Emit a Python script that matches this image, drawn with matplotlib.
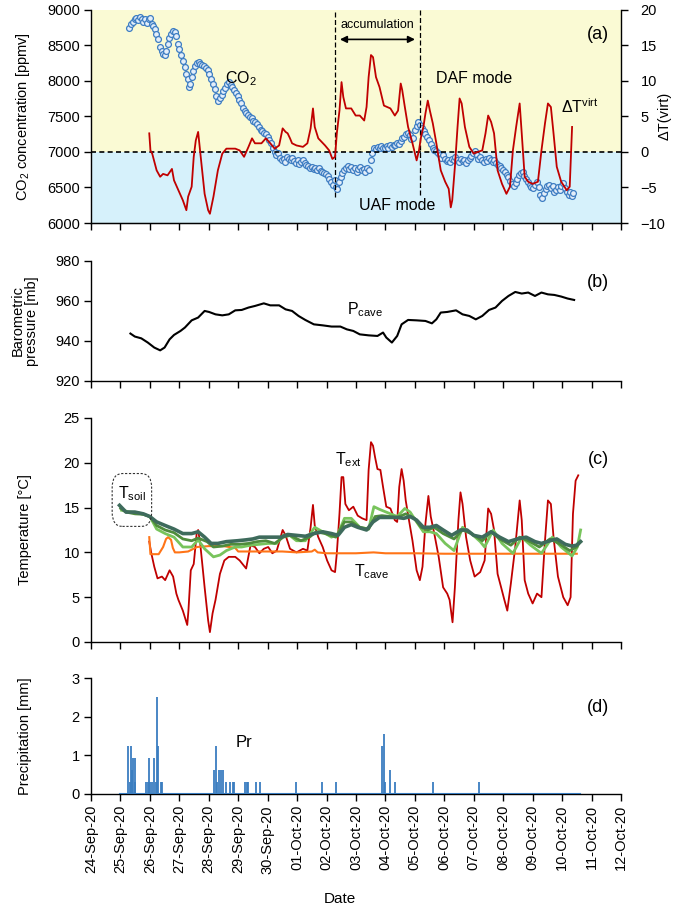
import matplotlib
matplotlib.use('Agg')
import matplotlib.pyplot as plt
from matplotlib.patches import FancyBboxPatch

plt.rcParams['font.family'] = ['Liberation Sans', 'DejaVu Sans']
plt.rcParams['mathtext.fontset'] = 'custom'
plt.rcParams['mathtext.rm'] = 'Liberation Sans'
plt.rcParams['mathtext.it'] = 'Liberation Sans'
plt.rcParams['mathtext.default'] = 'regular'

# ---------------- data (x = days since 24-Sep-20 00:00) ----------------
date_labels = ['24-Sep-20', '25-Sep-20', '26-Sep-20', '27-Sep-20', '28-Sep-20', '29-Sep-20',
               '30-Sep-20', '01-Oct-20', '02-Oct-20', '03-Oct-20', '04-Oct-20', '05-Oct-20',
               '06-Oct-20', '07-Oct-20', '08-Oct-20', '09-Oct-20', '10-Oct-20', '11-Oct-20',
               '12-Oct-20']

co2_t = [1.30, 1.36, 1.42, 1.48, 1.54, 1.60, 1.66, 1.72, 1.78, 1.84, 1.90, 1.96, 2.02, 2.08,
         2.12, 2.16, 2.22, 2.28, 2.34, 2.40, 2.46, 2.50, 2.54, 2.60, 2.66, 2.72, 2.78, 2.84,
         2.88, 2.94, 3.00, 3.06, 3.12, 3.18, 3.24, 3.28, 3.34, 3.38, 3.42, 3.48, 3.54, 3.60,
         3.66, 3.72, 3.78, 3.84, 3.90, 3.96, 4.02, 4.08, 4.14, 4.20, 4.26, 4.32, 4.38, 4.44,
         4.50, 4.56, 4.62, 4.68, 4.74, 4.80, 4.86, 4.92, 4.98, 5.04, 5.10, 5.16, 5.22, 5.28,
         5.34, 5.40, 5.46, 5.52, 5.58, 5.64, 5.70, 5.76, 5.82, 5.88, 5.94, 6.00, 6.06, 6.12,
         6.18, 6.24, 6.30, 6.36, 6.42, 6.48, 6.54, 6.60, 6.66, 6.72, 6.78, 6.84, 6.90, 6.96,
         7.02, 7.08, 7.14, 7.20, 7.26, 7.32, 7.38, 7.44, 7.50, 7.56, 7.62, 7.68, 7.74, 7.80,
         7.86, 7.92, 7.98, 8.04, 8.10, 8.16, 8.22, 8.28, 8.32, 8.36, 8.42, 8.48, 8.54, 8.60,
         8.66, 8.72, 8.78, 8.84, 8.90, 8.96, 9.02, 9.08, 9.14, 9.20, 9.26, 9.32, 9.38, 9.44,
         9.50, 9.56, 9.62, 9.68, 9.74, 9.80, 9.86, 9.92, 9.98, 10.04, 10.10, 10.16, 10.22,
         10.28, 10.34, 10.40, 10.46, 10.52, 10.58, 10.64, 10.70, 10.76, 10.82, 10.88, 10.94,
         11.00, 11.06, 11.12, 11.18, 11.24, 11.30, 11.36, 11.42, 11.48, 11.54, 11.60, 11.66,
         11.72, 11.78, 11.84, 11.90, 11.96, 12.02, 12.08, 12.14, 12.20, 12.26, 12.32, 12.38,
         12.44, 12.50, 12.56, 12.62, 12.68, 12.74, 12.80, 12.86, 12.92, 12.98, 13.04, 13.10,
         13.16, 13.22, 13.28, 13.34, 13.40, 13.46, 13.52, 13.58, 13.64, 13.70, 13.76, 13.82,
         13.88, 13.94, 14.00, 14.06, 14.12, 14.18, 14.24, 14.30, 14.36, 14.42, 14.48, 14.54,
         14.60, 14.66, 14.72, 14.78, 14.84, 14.90, 14.96, 15.02, 15.08, 15.14, 15.20, 15.26,
         15.32, 15.38, 15.44, 15.50, 15.56, 15.62, 15.68, 15.74, 15.80, 15.86, 15.92, 15.98,
         16.04, 16.10, 16.16, 16.22, 16.28, 16.34, 16.38]
co2_v = [8740, 8790, 8830, 8860, 8880, 8850, 8890, 8870, 8830, 8860, 8810, 8860, 8880, 8800,
         8770, 8720, 8660, 8580, 8480, 8420, 8370, 8360, 8420, 8520, 8600, 8660, 8700, 8690,
         8630, 8520, 8440, 8360, 8280, 8190, 8100, 8020, 7910, 7960, 8050, 8130, 8200, 8250,
         8260, 8240, 8220, 8200, 8180, 8150, 8100, 8030, 7960, 7880, 7790, 7720, 7760, 7800,
         7850, 7900, 7950, 7980, 7940, 7910, 7870, 7830, 7780, 7730, 7680, 7620, 7580, 7550,
         7520, 7490, 7470, 7440, 7420, 7390, 7350, 7310, 7290, 7270, 7250, 7210, 7170, 7120,
         7060, 7000, 6950, 6980, 6920, 6880, 6900, 6860, 6930, 6900, 6880, 6910, 6870, 6850,
         6880, 6830, 6860, 6890, 6850, 6820, 6800, 6780, 6790, 6760, 6780, 6750, 6770, 6730,
         6710, 6700, 6690, 6660, 6620, 6580, 6540, 6600, 6500, 6480, 6580, 6650, 6700, 6740,
         6780, 6800, 6760, 6790, 6750, 6780, 6720, 6760, 6790, 6740, 6760, 6720, 6780, 6750,
         6880, 6990, 7060, 7040, 7070, 7050, 7080, 7060, 7050, 7080, 7060, 7090, 7070,
         7100, 7090, 7120, 7110, 7150, 7190, 7210, 7250, 7260, 7230, 7180, 7200,
         7300, 7360, 7420, 7380, 7330, 7290, 7250, 7210, 7170, 7110, 7060, 7030,
         7010, 6980, 6950, 6920, 6960, 6900, 6870, 6890, 6860, 6900, 6880, 6930,
         6890, 6860, 6900, 6870, 6890, 6850, 6880, 6910, 6940, 6980, 7010, 6950,
         6900, 6930, 6880, 6860, 6900, 6870, 6920, 6890, 6860, 6890, 6840, 6820,
         6800, 6780, 6750, 6720, 6680, 6640, 6590, 6550, 6520, 6560, 6620, 6680,
         6700, 6720, 6660, 6620, 6580, 6540, 6500, 6490, 6540, 6580, 6500, 6400,
         6350, 6420, 6480, 6520, 6540, 6490, 6520, 6440, 6470, 6510, 6460, 6520,
         6560, 6490, 6440, 6400, 6430, 6380, 6420]

dtv_t = [1.98, 2.02, 2.08, 2.23, 2.35, 2.45, 2.60, 2.75, 2.82, 2.97, 3.12, 3.24, 3.30, 3.42,
         3.49, 3.56, 3.64, 3.68, 3.74, 3.86, 3.98, 4.04, 4.16, 4.31, 4.46, 4.60, 4.90, 5.05,
         5.20, 5.35, 5.47, 5.57, 5.79, 5.94, 6.09, 6.24, 6.39, 6.51, 6.61, 6.68, 6.76, 6.83,
         6.98, 7.20, 7.35, 7.46, 7.54, 7.60, 7.72, 7.95, 8.09, 8.20, 8.29, 8.35, 8.44, 8.51,
         8.57, 8.66, 8.84, 8.99, 9.13, 9.28, 9.36, 9.43, 9.51, 9.58, 9.68, 9.80, 9.95, 10.17,
         10.32, 10.43, 10.52, 10.57, 10.66, 10.77, 10.92, 11.06, 11.14, 11.21, 11.29, 11.36,
         11.44, 11.51, 11.61, 11.73, 11.88, 12.03, 12.15, 12.22, 12.27, 12.36, 12.45, 12.52,
         12.59, 12.70, 12.85, 13.00, 13.14, 13.29, 13.40, 13.49, 13.59, 13.69, 13.81, 13.96,
         14.11, 14.23, 14.33, 14.44, 14.56, 14.63, 14.73, 14.85, 15.00, 15.18, 15.30, 15.42,
         15.52, 15.62, 15.71, 15.82, 15.97, 16.16, 16.26, 16.34]
dtv_v = [2.6, 0.2, -0.25, -2.6, -3.5, -3.1, -3.3, -2.4, -4.0, -5.4, -6.8, -8.2, -6.3, -4.9,
         -0.7, 1.6, 2.8, 1.2, -1.2, -5.9, -8.2, -8.7, -6.3, -2.6, -0.25, 0.45, 0.45, 0.2,
         -0.7, 0.7, 1.9, 1.2, 1.2, 1.9, 1.2, 0.45, 0.9, 3.3, 2.8, 2.6, 1.9, 1.2,
         0.9, 0.7, 1.2, 3.3, 6.1, 3.5, 1.9, 0.9, 0.2, -1.0, -0.7, 2.6, 5.8, 9.8,
         7.7, 6.1, 6.1, 5.1, 5.1, 4.4, 6.3, 10.5, 13.6, 13.3, 10.5, 9.1, 6.5, 6.1,
         5.1, 5.8, 9.6, 8.7, 6.3, 3.5, 1.2, -1.2, 0.2, 2.1, 3.5, 5.4,
         7.2, 5.8, 4.0, 1.2, -2.6, -4.2, -5.2, -7.8, -6.8, -2.1, 3.5, 7.5,
         6.8, 3.5, 0.7, -0.25, 0.0, 0.2, 2.6, 5.1, 4.2, 2.6, -2.6, -4.5,
         -5.9, -4.9, 0.2, 3.5, 6.8, 2.6, -3.5, -4.2, -4.5, -4.2, 0.2, 4.0,
         6.8, 6.3, 2.6, -2.1, -4.2, -5.4, -4.9, 3.5]

p_t = [1.34, 1.49, 1.71, 1.93, 2.15, 2.35, 2.50, 2.67, 2.82, 3.04, 3.19, 3.42, 3.64, 3.86,
       4.01, 4.23, 4.46, 4.68, 4.90, 5.12, 5.35, 5.57, 5.87, 6.09, 6.39, 6.61, 6.83, 7.05,
       7.28, 7.57, 7.87, 8.17, 8.47, 8.69, 8.91, 9.13, 9.43, 9.73, 9.92, 10.03, 10.22, 10.40,
       10.55, 10.77, 11.06, 11.36, 11.58, 11.73, 11.88, 12.10, 12.40, 12.62, 12.85, 13.07,
       13.29, 13.52, 13.74, 13.96, 14.18, 14.41, 14.63, 14.85, 15.08, 15.30, 15.52, 15.74,
       15.97, 16.19, 16.41]
p_v = [943.7, 942.2, 941.3, 939.2, 936.7, 935.3, 936.7, 940.8, 943.0, 945.0, 946.7, 950.3,
       951.7, 955.0, 954.5, 953.3, 952.8, 953.3, 955.3, 955.5, 956.7, 957.5, 958.8, 957.8,
       957.8, 955.8, 955.0, 952.5, 950.5, 948.3, 947.8, 947.2, 947.2, 945.8, 945.0, 943.3,
       942.8, 942.5, 944.2, 941.7, 939.2, 942.5, 948.3, 950.5, 950.3, 950.0, 948.8, 950.8,
       954.2, 954.5, 955.3, 953.3, 952.5, 950.8, 952.5, 955.5, 956.7, 960.0, 962.5, 964.5,
       963.7, 964.2, 962.5, 964.2, 963.3, 963.0, 962.2, 961.2, 960.5]

text_t = [1.98, 2.05, 2.15, 2.26, 2.41, 2.52, 2.67, 2.79, 2.90, 2.97, 3.12, 3.27, 3.31, 3.39,
          3.49, 3.59, 3.64, 3.71, 3.79, 3.86, 3.98, 4.04, 4.13, 4.23, 4.38, 4.53, 4.68, 4.90,
          5.05, 5.27, 5.42, 5.57, 5.72, 5.87, 6.02, 6.16, 6.31, 6.51, 6.61, 6.76, 6.98, 7.20,
          7.35, 7.46, 7.54, 7.60, 7.72, 7.87, 8.02, 8.17, 8.29, 8.35, 8.44, 8.51, 8.57, 8.64,
          8.76, 8.91, 9.06, 9.21, 9.36, 9.43, 9.51, 9.58, 9.65, 9.73, 9.83, 9.92, 10.03, 10.17,
          10.32, 10.40, 10.47, 10.55, 10.62, 10.69, 10.80, 10.92, 11.06, 11.17, 11.26, 11.36,
          11.46, 11.54, 11.66, 11.81, 11.96, 12.10, 12.18, 12.28, 12.36, 12.48, 12.55, 12.62,
          12.74, 12.88, 13.03, 13.22, 13.37, 13.49, 13.59, 13.69, 13.81, 13.93, 14.04, 14.14,
          14.26, 14.41, 14.56, 14.63, 14.73, 14.85, 15.00, 15.15, 15.30, 15.42, 15.52, 15.62,
          15.71, 15.86, 16.04, 16.19, 16.29, 16.37, 16.46, 16.55]
text_v = [11.2, 9.9, 8.4, 7.1, 7.3, 6.9, 8.0, 7.3, 5.4, 4.7, 3.5, 1.9, 3.5, 8.0,
          8.7, 12.1, 12.5, 11.0, 8.4, 6.1, 2.4, 1.1, 3.2, 4.7, 7.6, 9.1, 9.5, 9.5,
          9.1, 8.2, 10.8, 10.6, 9.9, 10.4, 10.6, 9.9, 10.2, 12.5, 11.9, 10.4, 10.0, 10.4,
          10.2, 12.8, 15.3, 13.0, 11.7, 10.6, 9.1, 8.0, 7.8, 9.9, 14.3, 18.4, 18.4, 15.4,
          14.7, 15.1, 14.1, 13.8, 13.6, 19.2, 22.3, 21.9, 20.6, 19.3, 19.2, 17.3, 15.1, 14.9,
          13.6, 13.4, 17.3, 19.3, 18.0, 15.8, 13.6, 11.3, 8.0, 6.9, 8.4, 13.2,
          16.3, 14.0, 12.1, 9.5, 6.1, 5.4, 4.7, 2.2, 6.1, 13.6, 16.7, 15.4,
          11.7, 9.1, 7.3, 7.8, 9.1, 14.9, 14.3, 12.5, 7.6, 6.1, 4.7, 3.5,
          6.5, 10.6, 15.8, 13.6, 6.9, 5.4, 4.3, 5.4, 5.0, 11.3, 15.8, 15.4,
          11.7, 7.3, 5.0, 4.1, 5.0, 14.3, 18.0, 18.6]

tcave_t = [1.98, 2.02, 2.30, 2.45, 2.55, 2.62, 2.72, 2.78, 2.85, 3.00, 3.30, 3.60, 4.00, 4.50,
           4.90, 5.00, 5.50, 6.00, 6.50, 7.00, 7.50, 7.60, 7.70, 8.00, 9.00, 9.60, 10.00,
           11.00, 12.00, 13.00, 14.00, 15.00, 16.00, 16.50]
tcave_v = [11.7, 9.8, 9.8, 10.6, 11.5, 11.7, 11.4, 10.5, 10.0, 10.0, 10.1, 10.6, 10.7, 10.7,
           10.5, 10.1, 10.1, 10.1, 10.1, 10.0, 10.1, 10.3, 10.0, 9.9, 9.9, 10.0, 9.9,
           9.9, 9.85, 9.85, 9.85, 9.85, 9.85, 9.85]

tsoil1_t = [0.97, 1.19, 1.49, 1.78, 2.00, 2.23, 2.52, 2.82, 3.12, 3.42, 3.64, 3.86, 4.08, 4.31,
            4.60, 4.98, 5.27, 5.50, 5.72, 6.09, 6.46, 6.68, 6.98, 7.28, 7.57, 7.87, 8.17, 8.39,
            8.61, 8.84, 9.06, 9.36, 9.58, 9.80, 10.10, 10.40, 10.62, 10.84, 11.06, 11.29, 11.51,
            11.73, 11.96, 12.25, 12.55, 12.77, 13.00, 13.29, 13.59, 13.88, 14.18, 14.48, 14.78,
            15.08, 15.30, 15.59, 15.82, 16.11, 16.34, 16.49, 16.63]
tsoil1_v = [15.25, 14.5, 14.5, 14.3, 14.0, 13.4, 13.0, 12.6, 12.1, 12.1, 12.3, 11.7, 11.0, 11.0,
            11.2, 11.3, 11.4, 11.5, 11.7, 11.7, 11.7, 12.0, 11.9, 11.8, 12.1, 12.3, 12.1, 11.9,
            12.8, 13.1, 12.8, 12.5, 13.4, 13.9, 13.9, 13.9, 13.8, 14.0, 13.6, 12.8, 12.8,
            13.0, 12.5, 11.9, 12.5, 12.5, 11.9, 11.7, 12.3, 11.7, 11.2, 11.5, 11.7,
            11.2, 11.0, 11.3, 11.5, 10.9, 10.7, 10.8, 11.2]

tsoil2_t = [1.01, 1.19, 1.50, 1.78, 2.00, 2.23, 2.52, 2.82, 3.12, 3.42, 3.64, 3.94, 4.16, 4.46,
            4.75, 5.05, 5.35, 5.64, 5.94, 6.24, 6.53, 6.76, 7.13, 7.42, 7.65, 7.95, 8.32, 8.61,
            8.84, 9.13, 9.43, 9.65, 9.88, 10.17, 10.40, 10.69, 10.99, 11.21, 11.44, 11.66, 11.96,
            12.33, 12.62, 12.92, 13.29, 13.59, 13.88, 14.26, 14.56, 14.85, 15.23, 15.59, 15.89,
            16.26, 16.49, 16.63]
tsoil2_v = [14.9, 14.5, 14.3, 14.25, 14.0, 13.0, 12.5, 12.2, 11.5, 11.3, 11.6, 11.2, 10.6, 10.7,
            10.9, 10.9, 11.0, 11.2, 11.3, 11.0, 11.7, 11.9, 11.3, 11.7, 12.3, 12.1, 11.7, 13.4,
            13.4, 12.8, 12.6, 14.0, 14.1, 14.0, 13.9, 14.3, 13.8, 12.8, 12.5, 12.8, 12.1,
            11.5, 12.5, 12.1, 11.3, 12.3, 11.5, 10.8, 11.7, 11.3, 10.6, 11.5, 11.0,
            10.2, 10.6, 11.2]

tsoil3_t = [1.04, 1.34, 1.63, 2.00, 2.23, 2.52, 2.82, 3.12, 3.42, 3.64, 3.86, 4.16, 4.38, 4.60,
            4.90, 5.12, 5.42, 5.72, 6.02, 6.31, 6.53, 6.71, 6.98, 7.28, 7.60, 7.87, 8.17, 8.39,
            8.61, 8.84, 9.13, 9.43, 9.61, 9.80, 10.10, 10.40, 10.66, 10.84, 11.06, 11.29, 11.51,
            11.73, 12.03, 12.33, 12.62, 12.92, 13.22, 13.37, 13.66, 13.96, 14.33, 14.63, 14.93,
            15.30, 15.67, 15.97, 16.34, 16.52, 16.63]
tsoil3_v = [14.7, 14.5, 14.4, 14.0, 12.6, 12.1, 11.7, 10.6, 10.6, 11.4, 10.4, 9.5, 9.7, 10.2,
            10.6, 10.6, 10.8, 10.9, 11.0, 11.0, 11.9, 12.0, 11.3, 11.3, 12.8, 12.3, 11.7, 12.1,
            13.8, 13.8, 12.8, 12.6, 15.1, 14.8, 14.4, 14.0, 14.9, 14.5, 13.4, 12.3, 12.3,
            12.1, 11.0, 10.2, 12.8, 12.1, 11.2, 10.6, 12.5, 11.0, 9.9, 11.7, 10.8,
            9.9, 11.7, 10.6, 9.6, 10.6, 12.5]

pr_span = [0.97, 16.60]
pr_t = [1.26, 1.31, 1.37, 1.41, 1.44, 1.49, 1.51, 1.87, 1.93, 1.98, 2.02, 2.08, 2.15, 2.20,
        2.24, 2.29, 2.38, 2.42, 4.19, 4.23, 4.29, 4.35, 4.43, 4.49, 4.60, 4.72, 4.83, 4.87,
        5.23, 5.29, 5.35, 5.60, 5.75, 6.98, 7.84, 8.32, 9.88, 9.94, 9.98, 10.17, 10.32,
        11.63, 13.19]
pr_v = [1.25, 0.31, 1.25, 0.62, 0.94, 0.94, 0.31, 0.31, 0.31, 0.94, 0.31, 0.31, 0.94, 0.31,
        2.5, 1.25, 0.31, 0.31, 0.62, 1.25, 0.31, 0.62, 0.62, 0.62, 0.31, 0.31, 0.31, 0.31,
        0.31, 0.31, 0.31, 0.31, 0.31, 0.31, 0.31, 0.31, 1.25, 1.56, 0.31, 0.62, 0.31,
        0.31, 0.31]

# ---------------- figure ----------------
fig = plt.figure(figsize=(6.85, 9.14), dpi=100)
L, W = 0.1328, 0.7737
axa = fig.add_axes([L, 0.756, W, 0.2336])
axb = fig.add_axes([L, 0.5832, W, 0.1313])
axc = fig.add_axes([L, 0.2976, W, 0.2451])
axd = fig.add_axes([L, 0.1313, W, 0.1269])

FS = 10.5
for ax in (axa, axb, axc, axd):
    ax.set_xlim(0, 18)
    ax.set_xticks(range(len(date_labels)))
    ax.spines['top'].set_visible(False)
    ax.spines['right'].set_visible(False)
    for s in ax.spines.values():
        s.set_linewidth(1.0)
    ax.tick_params(direction='out', length=5, width=1.0, labelsize=FS, pad=3)
    ax.set_xticklabels([])

# panel (a)
axa.set_ylim(6000, 9000)
axa.set_yticks(range(6000, 9001, 500))
axa.axhspan(7000, 9000, color='#fafad4', zorder=0, lw=0)
axa.axhspan(6000, 7000, color='#d6f1fb', zorder=0, lw=0)
axa.plot(co2_t, co2_v, ls='none', marker='o', ms=4.2, mfc='#e4eef9', mec='#3d7dc2', mew=0.9, zorder=3)
axa.set_ylabel('CO$_2$ concentration [ppmv]', fontsize=FS)
axa.yaxis.set_label_coords(-0.112, 0.5)

axr = axa.twinx()
axr.set_xlim(0, 18)
axr.set_ylim(-10, 20)
axr.set_yticks(range(-10, 21, 5))
axr.spines['top'].set_visible(False)
axr.spines['left'].set_visible(False)
axr.spines['right'].set_linewidth(1.0)
axr.tick_params(direction='out', length=5, width=1.0, labelsize=FS, pad=9)
axr.axhline(0, color='black', ls=(0, (3, 2)), lw=1.2, zorder=2)
axr.plot(dtv_t, dtv_v, color='#c00000', lw=1.3, zorder=4)
axr.plot([8.29, 8.29], [-6.3, 20], color='black', ls=(0, (4, 2)), lw=0.9)
axr.plot([11.17, 11.17], [-6.0, 20], color='black', ls=(0, (4, 2)), lw=0.9)
axr.annotate('', xy=(8.36, 15.8), xytext=(11.1, 15.8),
             arrowprops=dict(arrowstyle='<|-|>', color='black', lw=1.2, mutation_scale=10))
axr.text(9.73, 17.8, 'accumulation', fontsize=9, ha='center', va='center')
axr.text(4.56, 10.3, 'CO$_2$', fontsize=11.5, ha='left', va='center')
axr.text(11.73, 10.3, 'DAF mode', fontsize=11.5, ha='left', va='center')
axr.text(15.95, 6.4, 'ΔT$^{virt}$', fontsize=11.5, ha='left', va='center')
axr.text(9.09, -7.5, 'UAF mode', fontsize=11.5, ha='left', va='center')
axr.text(17.6, 16.5, '(a)', fontsize=13, ha='right', va='center')
axr.set_ylabel('ΔT(virt)', fontsize=FS, rotation=90)
axr.yaxis.set_label_coords(1.07, 0.5)

# panel (b)
axb.set_ylim(920, 980)
axb.set_yticks([920, 940, 960, 980])
axb.plot(p_t, p_v, color='black', lw=1.5)
axb.text(8.69, 955.5, 'P$_{cave}$', fontsize=11.5, ha='left', va='center')
axb.text(17.6, 969, '(b)', fontsize=13, ha='right', va='center')
axb.set_ylabel('Barometric\npressure [mb]', fontsize=FS, linespacing=1.0)
axb.yaxis.set_label_coords(-0.098, 0.5)

# panel (c)
axc.set_ylim(0, 25)
axc.set_yticks(range(0, 26, 5))
axc.plot(text_t, text_v, color='#c00000', lw=1.3, zorder=2)
axc.plot(tcave_t, tcave_v, color='#ff7417', lw=1.5, zorder=3)
axc.plot(tsoil3_t, tsoil3_v, color='#78c45c', lw=2.0, zorder=4)
axc.plot(tsoil2_t, tsoil2_v, color='#4f8c3c', lw=2.0, zorder=5)
axc.plot(tsoil1_t, tsoil1_v, color='#3e6b5c', lw=2.6, zorder=6)
box = FancyBboxPatch((0.72, 12.9), 1.34, 5.9, boxstyle='round,pad=0,rounding_size=0.35',
                     fill=False, ec='#333333', ls=(0, (2, 1.5)), lw=0.8,
                     mutation_aspect=4.5, zorder=7)
axc.add_patch(box)
axc.text(1.39, 16.5, 'T$_{soil}$', fontsize=11.5, ha='center', va='center')
axc.text(8.29, 20.4, 'T$_{ext}$', fontsize=11.5, ha='left', va='center')
axc.text(8.94, 7.9, 'T$_{cave}$', fontsize=11.5, ha='left', va='center')
axc.text(17.6, 20.4, '(c)', fontsize=13, ha='right', va='center')
axc.set_ylabel('Temperature [°C]', fontsize=FS)
axc.yaxis.set_label_coords(-0.112, 0.5)

# panel (d)
axd.set_ylim(0, 3)
axd.set_yticks([0, 1, 2, 3])
axd.plot(pr_span, [0, 0], color='#3a7dc0', lw=1.5, zorder=3)
axd.vlines(pr_t, 0, pr_v, color='#3a7dc0', lw=1.3, zorder=3)
axd.text(4.9, 1.33, 'Pr', fontsize=12, ha='left', va='center')
axd.text(17.6, 2.25, '(d)', fontsize=13, ha='right', va='center')
axd.set_ylabel('Precipitation [mm]', fontsize=FS)
axd.yaxis.set_label_coords(-0.112, 0.5)
axd.set_xticklabels(date_labels, rotation=90, fontsize=FS)

fig.text(0.496, 0.016, 'Date', fontsize=FS + 0.5, ha='center', va='center')

fig.savefig('out.png', dpi=100)
